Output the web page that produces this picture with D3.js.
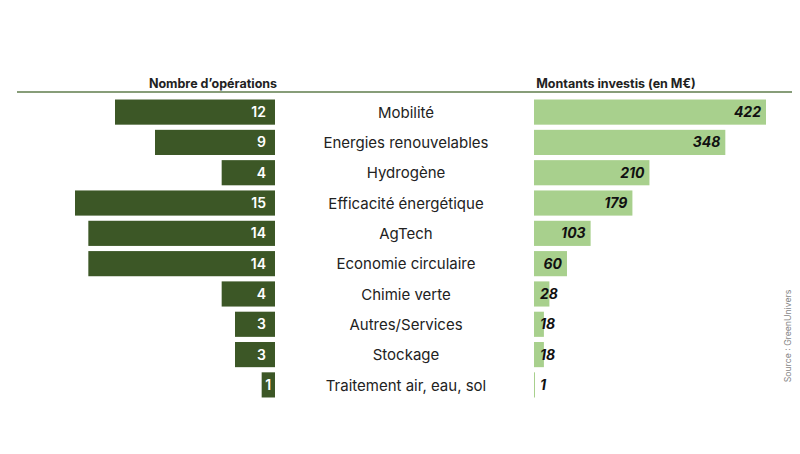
<!DOCTYPE html>
<html><head><meta charset="utf-8">
<script src="https://cdn.jsdelivr.net/npm/d3@7"></script>
<style>body{margin:0;background:#fff}svg{display:block}text{font-family:Inter,"Noto Sans",sans-serif}</style>
</head><body>
<svg id="c" width="800" height="454"></svg>
<script>
const categories = ["Mobilité","Energies renouvelables","Hydrogène","Efficacité énergétique","AgTech","Economie circulaire","Chimie verte","Autres/Services","Stockage","Traitement air, eau, sol"];
const operations = [12,9,4,15,14,14,4,3,3,1];
const montants = [422,348,210,179,103,60,28,18,18,1];
const headers = ["Nombre d’opérations","Montants investis (en M€)"];
const source = "Source : GreenUnivers";

const svg = d3.select("#c");
const dark = "#3c5726", light = "#a8d08d";

const y = d3.scaleBand().domain(categories).range([98, 399]).paddingInner(0.17).paddingOuter(0.05);
const xL = d3.scaleLinear().domain([0, 15]).range([275, 75]);
const xR = d3.scaleLinear().domain([0, 422]).range([534, 766]);

// header line
svg.append("line").attr("x1",17).attr("x2",792).attr("y1",92).attr("y2",92)
  .attr("stroke","#5f7d4c").attr("stroke-width",1.3);
svg.append("text").attr("x",213).attr("y",88).attr("text-anchor","middle")
  .attr("font-size",12.5).attr("font-weight",700).attr("fill","#222").text(headers[0]);
svg.append("text").attr("x",616).attr("y",88).attr("text-anchor","middle")
  .attr("font-size",12.5).attr("font-weight",700).attr("fill","#222").text(headers[1]);

// left bars
const gl = svg.append("g");
gl.selectAll("rect").data(categories).join("rect")
  .attr("x",(d,i)=>xL(operations[i])).attr("y",d=>y(d))
  .attr("width",(d,i)=>xL(0)-xL(operations[i])).attr("height",y.bandwidth())
  .attr("fill",dark);
gl.selectAll("text").data(categories).join("text")
  .attr("x",(d,i)=> operations[i] < 2 ? (xL(operations[i]) + xL(0))/2 : xL(0)-9)
  .attr("text-anchor",(d,i)=> operations[i] < 2 ? "middle" : "end")
  .attr("y",d=>y(d)+y.bandwidth()/2).attr("dy","0.36em")
  .attr("fill","#fff").attr("font-size",14).attr("font-weight",600)
  .text((d,i)=>operations[i]);

// category labels
svg.append("g").selectAll("text").data(categories).join("text")
  .attr("x",406).attr("y",d=>y(d)+y.bandwidth()/2).attr("dy","0.38em")
  .attr("text-anchor","middle").attr("font-size",15).attr("fill","#222").text(d=>d);

// right bars
const gr = svg.append("g");
gr.selectAll("rect").data(categories).join("rect")
  .attr("x",xR(0)).attr("y",d=>y(d))
  .attr("width",(d,i)=>Math.max(1,xR(montants[i])-xR(0))).attr("height",y.bandwidth())
  .attr("fill",light);
gr.selectAll("text").data(categories).join("text")
  .attr("x",(d,i)=> xR(montants[i])-6 > xR(0)+20 ? xR(montants[i])-5 : xR(0)+6)
  .attr("text-anchor",(d,i)=> xR(montants[i])-6 > xR(0)+20 ? "end" : "start")
  .attr("y",d=>y(d)+y.bandwidth()/2).attr("dy","0.36em")
  .attr("fill","#111").attr("font-size",14).attr("font-weight",700).attr("font-style","italic")
  .text((d,i)=>montants[i]);

// source
svg.append("text").attr("transform","translate(791,336) rotate(-90)")
  .attr("text-anchor","middle").attr("font-size",8.7).attr("fill","#888").text(source);
</script>
</body></html>
